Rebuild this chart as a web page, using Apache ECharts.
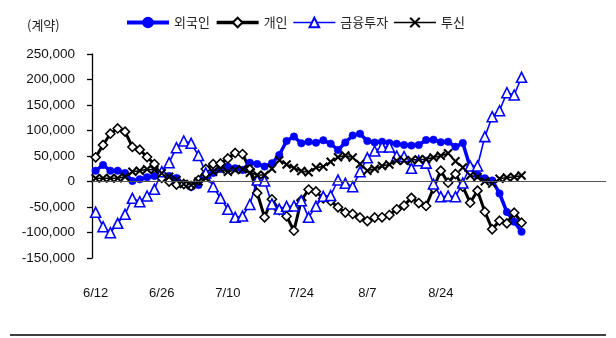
<!DOCTYPE html>
<html>
<head>
<meta charset="utf-8">
<script src="https://cdn.jsdelivr.net/npm/echarts@6/dist/echarts.min.js"></script>
<style>
  html, body { margin: 0; padding: 0; background: #fff; }
  #chart { width: 616px; height: 338px; }
</style>
</head>
<body>
<div id="chart"></div>
<script>
// Trading dates on the category axis (the axis runs past the last observation)
const dates = [
  '6/12','6/13','6/14','6/15','6/16','6/19','6/20','6/21','6/22','6/26',
  '6/27','6/28','6/29','6/30','7/3','7/4','7/5','7/6','7/10',
  '7/11','7/12','7/13','7/14','7/17','7/18','7/19','7/20','7/21','7/24',
  '7/25','7/26','7/27','7/28','7/31','8/1','8/2','8/3','8/7',
  '8/8','8/9','8/10','8/11','8/14','8/16','8/17','8/18','8/21','8/24',
  '8/25','8/28','8/29','8/30','8/31','9/1','9/4','9/5','9/6','9/7','9/8',
  '9/11','9/12','9/13','9/14','9/15','9/18','9/19','9/20','9/21','9/22','9/25'
];
// Dates that carry a tick label
const labelDates = ['6/12','6/26','7/10','7/24','8/7','8/24'];

// Cumulative net position by investor type (contracts)
const foreign = [
  21200, 32400, 21200, 21200, 16700, 1000, 4300, 8200, 10800, 12700,
  10800, 6900, -4900, -10800, -6900, 12700, 16700, 24500, 29000, 25900,
  22500, 36900, 34300, 29400, 35700, 52000, 79400, 88000, 74900, 78000,
  76100, 80800, 74100, 61800, 76500, 90200, 93700, 79400, 76500, 78000,
  75500, 73900, 71600, 70600, 71600, 81400, 82000, 77100, 78000, 68200,
  75500, 27800, 12700, 6300, 2000, -23500, -59800, -78800, -98400
];
const individual = [
  47500, 71600, 93700, 104000, 97700, 67700, 62400, 48000, 34300, 6900,
  0, -5900, -4900, -8800, 2900, 24500, 34300, 35300, 45100, 55900,
  53900, 23900, -22600, -70200, -34900, -55900, -68200, -96500, -37000, -15700,
  -19600, -33300, -38200, -50600, -60800, -63700, -70600, -77500, -70600, -70200,
  -65700, -54500, -47100, -32000, -42200, -48000, -13300, 21200, -2400, 14700,
  -10200, -41600, -18000, -59200, -93700, -76900, -82000, -61200, -80800
];
const financialInv = [
  -60400, -88600, -100400, -82000, -64300, -32900, -39600, -28400, -15300, 19200,
  36900, 66300, 79400, 74900, 51000, 17000, -10200, -32900, -54500, -70200,
  -67700, -45000, 2900, 1000, -44000, -54000, -48600, -48000, -37600, -70200,
  -48600, -29000, -27500, 2900, -3500, -10200, 19200, 46500, 59800, 67700,
  67700, 50000, 49000, 25900, 40600, 36000, -4900, -29800, -28400, -29800,
  -3000, 30400, 30400, 87900, 127100, 138800, 174100, 169600, 204300
];
const investTrust = [
  6300, 6300, 6300, 6300, 9400, 19200, 21200, 23900, 22500, 16100,
  9400, 2900, -4900, -6900, 0, 6300, 19200, 23900, 19200, 22500,
  23900, 17300, 12700, 12700, 24900, 41600, 33300, 26500, 20600, 18200,
  27300, 29200, 38800, 47500, 51000, 47100, 34300, 21200, 24900, 30400,
  33300, 40800, 40600, 42200, 43100, 43500, 47100, 50400, 55300, 39800,
  27500, 11800, 8800, 600, -4100, 5300, 7800, 8800, 11800
];

// Value axis ticks
const yMin = -150000, yMax = 250000, yStep = 50000;

const chart = echarts.init(document.getElementById('chart'), null, { renderer: 'canvas' });

const numFont = 'Liberation Sans, Arial, sans-serif';
const krFont = 'Noto Sans CJK KR, sans-serif';
const crossPath = 'path://M0,0L10,10M10,0L0,10';

chart.setOption({
  animation: false,
  backgroundColor: '#ffffff',
  legend: {
    left: 120,
    top: 11,
    itemWidth: 42,
    itemHeight: 12,
    itemGap: 5,
    textStyle: { fontFamily: krFont, fontSize: 13, color: '#222' },
    data: [
      { name: '외국인', lineStyle: { width: 4 } },
      { name: '개인', lineStyle: { width: 3.5 } },
      { name: '금융투자', lineStyle: { width: 1.6 } },
      { name: '투신', lineStyle: { width: 1.6 } }
    ]
  },
  grid: { left: 92, right: 10, top: 54, bottom: 80, containLabel: false },
  xAxis: {
    type: 'category',
    data: dates,
    boundaryGap: true,
    axisLine: { show: false },
    axisTick: { show: false },
    splitLine: { show: false },
    axisLabel: {
      interval: (i, v) => labelDates.includes(v),
      margin: 29,
      fontFamily: numFont,
      fontSize: 13,
      color: '#111'
    }
  },
  yAxis: {
    type: 'value',
    min: yMin,
    max: yMax,
    interval: yStep,
    splitLine: { show: false },
    axisLine: { show: true, lineStyle: { color: '#000', width: 1.3 } },
    axisTick: { show: true, inside: false, length: 5, lineStyle: { color: '#000', width: 1.3 } },
    axisLabel: {
      margin: 17,
      fontFamily: numFont,
      fontSize: 13.5,
      color: '#111',
      formatter: v => v.toLocaleString('en-US')
    }
  },
  series: [
    {
      name: '외국인',
      type: 'line',
      data: foreign,
      symbol: 'circle',
      symbolSize: 7.5,
      showAllSymbol: true,
      lineStyle: { color: '#0000ff', width: 3.5 },
      itemStyle: { color: '#0000ff', borderColor: '#0000ff', borderWidth: 0.5 },
      markLine: {
        silent: true,
        symbol: 'none',
        label: { show: false },
        lineStyle: { color: '#555', width: 1.2, type: 'solid' },
        data: [{ yAxis: 0 }]
      }
    },
    {
      name: '개인',
      type: 'line',
      data: individual,
      symbol: 'diamond',
      symbolSize: 9,
      showAllSymbol: true,
      lineStyle: { color: '#000', width: 3 },
      itemStyle: { color: '#fff', borderColor: '#000', borderWidth: 1.6 }
    },
    {
      name: '금융투자',
      type: 'line',
      data: financialInv,
      symbol: 'triangle',
      symbolSize: 10,
      showAllSymbol: true,
      lineStyle: { color: '#0000ff', width: 1.6 },
      itemStyle: { color: '#fff', borderColor: '#0000ff', borderWidth: 1.6 }
    },
    {
      name: '투신',
      type: 'line',
      data: investTrust,
      symbol: crossPath,
      symbolSize: 8,
      showAllSymbol: true,
      lineStyle: { color: '#000', width: 1.6 },
      itemStyle: { color: '#000', borderColor: '#000', borderWidth: 2 }
    }
  ],
  graphic: [
    {
      type: 'text',
      left: 27,
      top: 19,
      style: { text: '(계약)', font: '13px ' + krFont, fill: '#222' }
    },
    {
      type: 'line',
      shape: { x1: 10, y1: 335, x2: 606, y2: 335 },
      style: { stroke: '#000', lineWidth: 1.5 }
    }
  ]
});
</script>
</body>
</html>
